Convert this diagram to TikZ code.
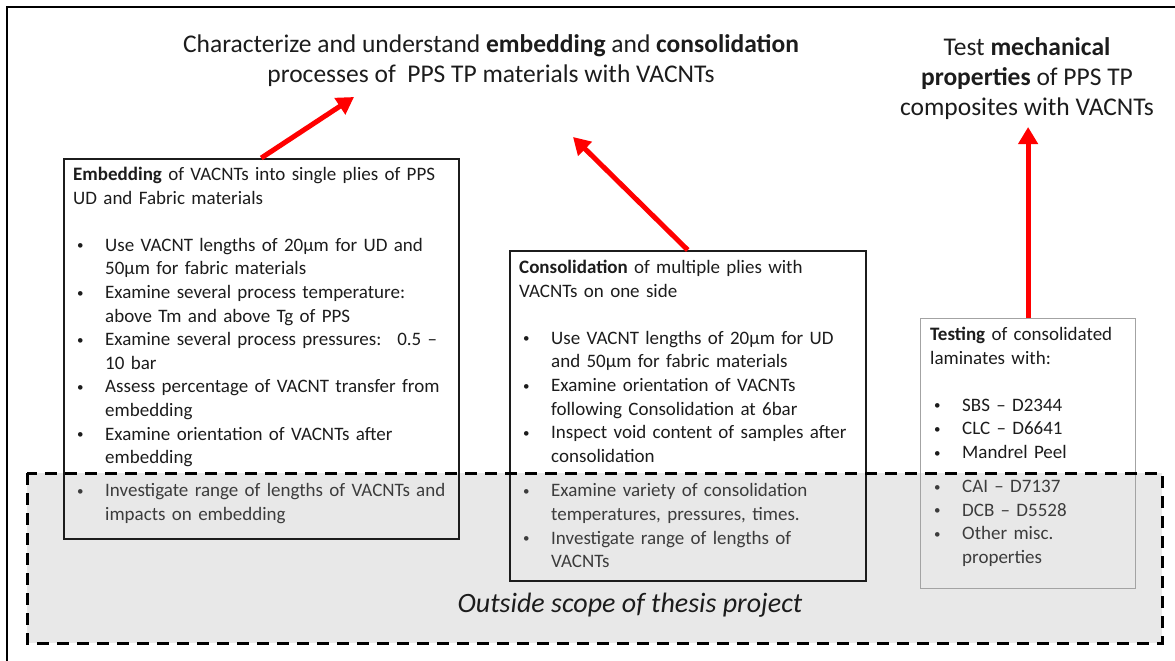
\documentclass[tikz,border=0pt]{standalone}
\usepackage{fontspec}
\setmainfont{Carlito}
\usetikzlibrary{arrows.meta,positioning,calc}
\definecolor{ink}{HTML}{1C1C1C}
\definecolor{outtxt}{HTML}{3C3C3C}
\definecolor{zonegray}{HTML}{E8E8E8}
\definecolor{edge}{HTML}{A3A3A3}
\definecolor{goalred}{HTML}{FF0000}
\tikzset{
  panel/.style={draw=ink,line width=1.5pt,anchor=north west,inner sep=0pt},
  body/.style={font=\fontsize{19}{23.6}\selectfont,text=ink,align=left,anchor=north west,inner sep=0pt},
  goal/.style={font=\fontsize{25.5}{30}\selectfont,text=ink,align=center,inner sep=0pt},
  push/.style={goalred,line width=5pt,-{Triangle[length=17pt,width=19pt]}},
  zone/.style={draw=black,line width=3pt,dash pattern=on 12pt off 8pt},
}
\newcommand{\bul}[1]{\par\hangindent=32pt\hangafter=1\noindent
  \makebox[32pt][l]{\hspace{4pt}\raisebox{1.5pt}{\fontsize{13}{13}\selectfont\textbullet}}#1\par}

\begin{document}
\begin{tikzpicture}[x=1pt,y=-1pt]
  \useasboundingbox (0,0) rectangle (1175,661);
  % outer frame (cut at right and bottom)
  \draw[line width=2pt,black] (7,661) -- (7,7) -- (1175,7);
  % region outside the thesis scope
  \fill[zonegray] (27,473) rectangle (1162,643);

  \node[panel,minimum width=395pt,minimum height=380pt] (embed) at (63,158) {};
  \node[panel,minimum width=356pt,minimum height=330pt] (consol) at (509,250) {};
  \node[panel,draw=edge,line width=1.2pt,minimum width=215pt,minimum height=270pt] (testing) at (920,318) {};

  \draw[zone] (27,473) rectangle (1162,643);

  \node[body,text width=385pt,below right=9pt and 10pt of embed.north west] (embedtxt)
    {\textbf{Embedding} of VACNTs into single plies of PPS\newline UD and Fabric materials\par
     \vspace{23.6pt}
     \bul{Use VACNT lengths of 20µm for UD and\newline 50µm for fabric materials}
     \bul{Examine several process temperature:\newline above Tm and above Tg of PPS}
     \bul{Examine several process pressures:~ 0.5 --\newline 10 bar}
     \bul{Assess percentage of VACNT transfer from\newline embedding}
     \bul{Examine orientation of VACNTs after\newline embedding}
     \vspace{9.5pt}\color{outtxt}
     \bul{Investigate range of lengths of VACNTs and\newline impacts on embedding}};

  \node[body,text width=345pt,below right=10pt and 10pt of consol.north west] (consoltxt)
    {\textbf{Consolidation} of multiple plies with\newline VACNTs on one side\par
     \vspace{23.6pt}
     \bul{Use VACNT lengths of 20µm for UD\newline and 50µm for fabric materials}
     \bul{Examine orientation of VACNTs\newline following Consolidation at 6bar}
     \bul{Inspect void content of samples after\newline consolidation}
     \vspace{11pt}\color{outtxt}
     \bul{Examine variety of consolidation\newline temperatures, pressures, times.}
     \bul{Investigate range of lengths of\newline VACNTs}};

  \node[body,text width=205pt,below right=9pt and 10pt of testing.north west] (testtxt)
    {\textbf{Testing} of consolidated\newline laminates with:\par
     \vspace{23.6pt}
     \bul{SBS -- D2344}
     \bul{CLC -- D6641}
     \bul{Mandrel Peel}
     \vspace{10.5pt}\color{outtxt}
     \bul{CAI -- D7137}
     \bul{DCB -- D5528}
     \bul{Other misc.\newline properties}};

  \node[goal] (goalA) at (491,61)
    {Characterize and understand \textbf{embedding} and \textbf{consolidation}\\
     processes of~ PPS TP materials with VACNTs};
  \node[goal] (goalB) at (1027,79)
    {Test \textbf{mechanical}\\ \textbf{properties} of PPS TP\\ composites with VACNTs};

  \coordinate (aimA) at (354,97);
  \coordinate (aimB) at (573,137);
  \coordinate (aimC) at (testing.north |- 0,127);
  \draw[push] (embed.north) -- (aimA);
  \draw[push] (consol.north) -- (aimB);
  \draw[push] (testing.north) -- (aimC);

  \node[font=\fontsize{28}{32}\selectfont\itshape,text=ink] (outlbl) at (630,605) {Outside scope of thesis project};
\end{tikzpicture}
\end{document}
